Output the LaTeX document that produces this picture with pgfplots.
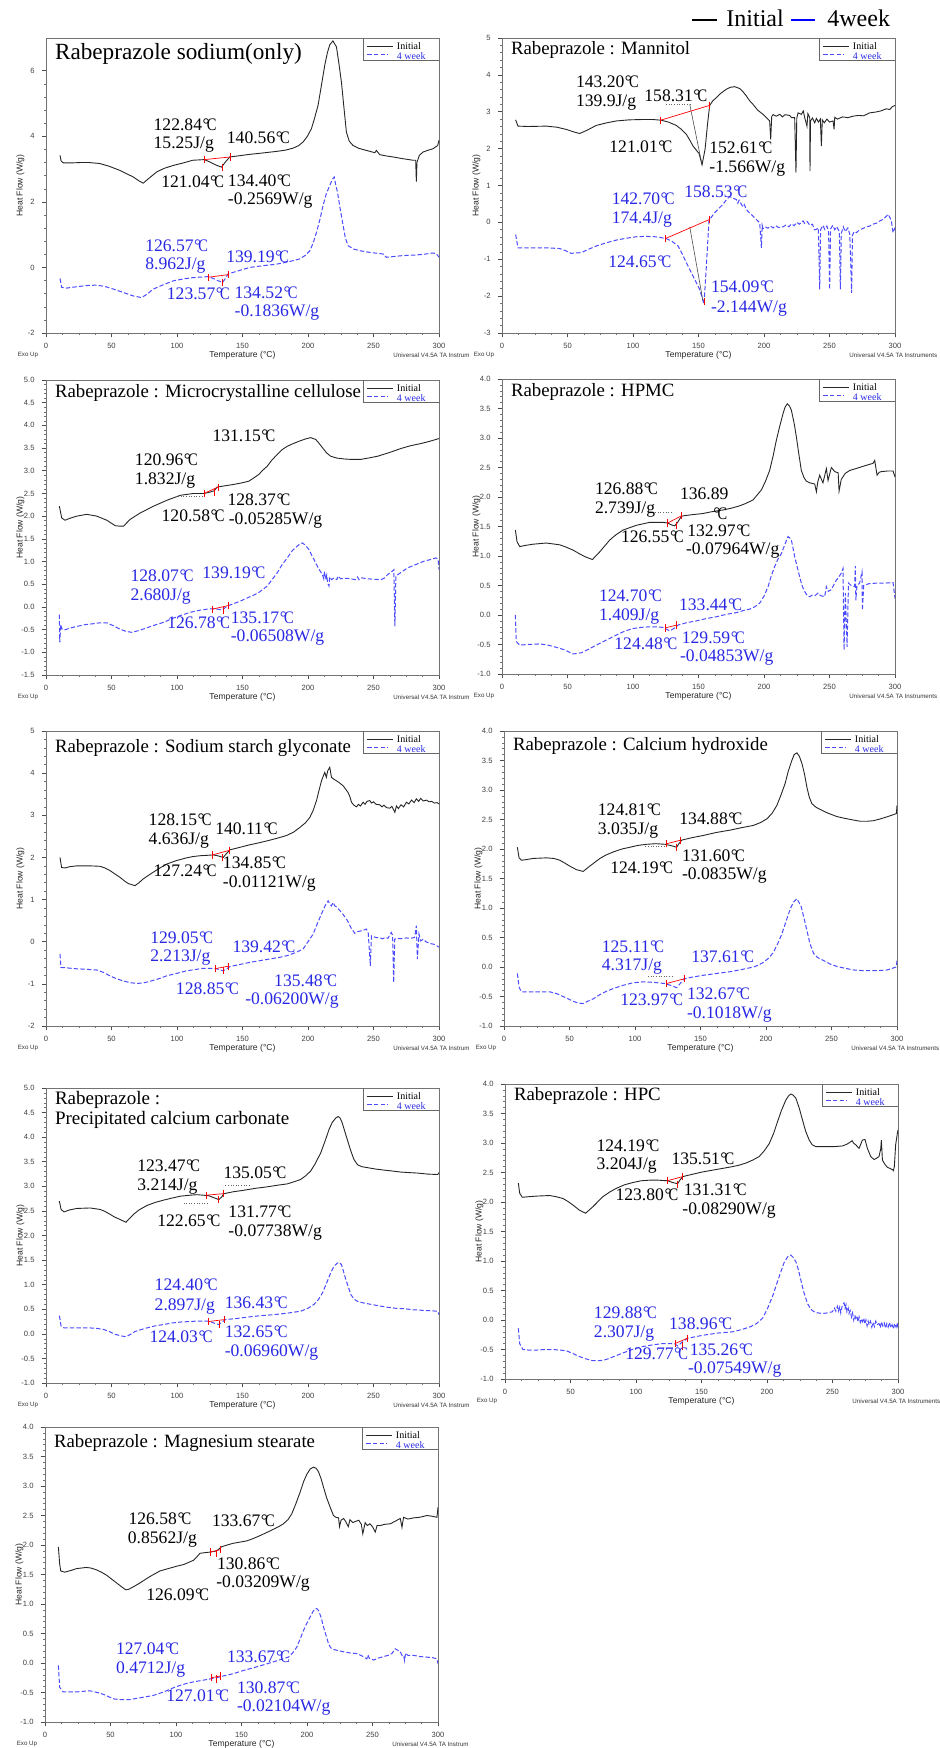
\documentclass[border=0pt]{standalone}
\usepackage{fontspec}
\setmainfont{Liberation Serif}
\newfontfamily\sansf{Liberation Sans}
\usepackage{graphicx}
\usepackage{pgfplots}
\pgfplotsset{compat=1.18}
\definecolor{annblue}{RGB}{40,40,228}
\definecolor{curveblue}{RGB}{75,75,255}

\newcommand\dgC{\kern0.03em\textdegree\kern-0.16em\scalebox{0.82}[1]{C}}
\newcommand\tickfont{\sansf\fontsize{3.8}{4.4}\selectfont}
\newcommand\labfont{\sansf\fontsize{4.3}{5}\selectfont}
\newcommand\tinyfont{\sansf\fontsize{3.1}{3.6}\selectfont}
\newcommand\annfont{\fontsize{8.8}{10}\selectfont}
\newcommand\legfont{\fontsize{5}{6}\selectfont}

\tikzset{ini/.style={black!85, line width=0.45pt},
  wk/.style={curveblue, line width=0.5pt, dash pattern=on 2.2pt off 1.1pt},
  redm/.style={red, line width=0.35pt, mark=|, mark size=1.8pt},
  ann/.style={anchor=west, inner sep=0pt, font=\annfont},
  annb/.style={ann, text=annblue}}
\pgfplotsset{
  dsc/.style={
    width=196.5pt, height=147.5pt, scale only axis, anchor=north west,
    xmin=0, xmax=300, xtick={0,50,...,300},
    minor x tick num=3, minor y tick num=4,
    tick align=outside, xtick pos=bottom, ytick pos=left,
    axis line style={black!55, line width=0.35pt},
    major tick style={black!70, line width=0.3pt},
    minor tick style={black!55, line width=0.25pt},
    major tick length=2.2pt, minor tick length=1.1pt,
    tick label style={font=\tickfont, text=black!75},
    xticklabel style={yshift=0.6pt},
    /pgf/number format/assume math mode=true,
    scaled y ticks=false, clip mode=individual,
  },
  dec1/.style={yticklabel style={/pgf/number format/fixed, /pgf/number format/fixed zerofill, /pgf/number format/precision=1}},
  rpk/.style={red, only marks, mark=|, mark size=1.8pt, mark options={line width=0.35pt}},
}

% #1 title, #2 title size, #3 title rel y, #4 bottom right text
\newcommand\decor[4]{%
  \node[anchor=west, inner sep=0pt, align=left, font=\fontsize{#2}{10.4}\selectfont] at (rel axis cs:0.022,#3) {#1};
  \draw[black!60, line width=0.35pt] (rel axis cs:0.807,1) -- (rel axis cs:0.807,0.925) -- (rel axis cs:1,0.925);
  \draw[ini] (rel axis cs:0.818,0.972) -- (rel axis cs:0.883,0.972);
  \node[anchor=west, inner sep=0pt, font=\legfont] at (rel axis cs:0.892,0.972) {Initial};
  \draw[wk] (rel axis cs:0.818,0.944) -- (rel axis cs:0.870,0.944);
  \node[anchor=west, inner sep=0pt, font=\legfont, text=annblue] at (rel axis cs:0.892,0.940) {4 week};
  \node[yshift=-11.2pt, font=\labfont, text=black!85] at (rel axis cs:0.5,0) {Temperature (°C)};
  \node[xshift=-12.8pt, rotate=90, font=\labfont, text=black!85] at (rel axis cs:0,0.5) {Heat Flow (W/g)};
  \node[xshift=-9pt, yshift=-11pt, font=\tinyfont, text=black!80] at (rel axis cs:0,0) {Exo Up};
  \node[xshift=-23pt, yshift=-11pt, anchor=west, inner sep=0pt, font=\tinyfont, text=black!80] at (rel axis cs:1,0) {#4};
}

\begin{document}
\begin{tikzpicture}
\path[use as bounding box] (0,0) rectangle (470pt,-874pt);
\draw[black, line width=0.8pt] (346pt,-10pt) -- (358.5pt,-10pt);
\node[anchor=west, inner sep=0pt, font=\fontsize{12}{14}\selectfont] at (363pt,-9.2pt) {Initial};
\draw[blue, line width=0.8pt] (395.5pt,-10pt) -- (407.5pt,-10pt);
\node[anchor=west, inner sep=0pt, font=\fontsize{12}{14}\selectfont] at (413.5pt,-9.2pt) {4week};

% ---------- 1: Rabeprazole sodium (only)
\begin{axis}[dsc, at={(23pt,-19pt)}, ymin=-2, ymax=7, ytick={-2,0,...,6}]
\addplot[ini] coordinates {(10.7,3.42)(11.5,3.25)(13.2,3.19)(20,3.19)(26,3.20)(33,3.20)(41,3.17)(48,3.09)(56.4,2.96)(62,2.85)(66.6,2.76)(71,2.64)(74.2,2.57)(78,2.70)(84.4,2.91)(90,3.02)(97,3.11)(105,3.19)(112,3.27)(121,3.29)(126,3.20)(130,3.12)(134,3.06)(137,3.22)(140.3,3.37)(148,3.41)(155.6,3.45)(165,3.49)(176,3.54)(183,3.58)(188.7,3.64)(193,3.72)(196.3,3.83)(199.5,4.0)(202.6,4.23)(205,4.55)(207.7,4.95)(210,5.5)(212.8,6.17)(214.8,6.55)(216.6,6.79)(219,6.91)(221.7,6.73)(223.5,6.25)(225.5,5.66)(227.5,4.85)(229.3,4.13)(231.5,3.85)(234.4,3.72)(239,3.63)(244.6,3.57)(251,3.50)(252.2,3.57)(254.8,3.44)(260,3.40)(265,3.37)(272,3.32)(280.2,3.27)(282.2,3.27)(282.7,2.62)(283.2,3.21)(285,3.42)(287.8,3.52)(292,3.58)(295.4,3.62)(299,3.72)(300,3.88)};
\addplot[wk] coordinates {(10.7,-0.34)(12,-0.61)(15.8,-0.63)(25,-0.58)(32,-0.55)(38.6,-0.54)(45,-0.58)(51.4,-0.66)(58,-0.75)(66.6,-0.87)(73,-0.92)(77,-0.82)(81.9,-0.66)(90,-0.52)(97.1,-0.41)(105,-0.35)(112.4,-0.31)(120,-0.29)(123.8,-0.28)(128,-0.34)(131,-0.40)(134.8,-0.46)(137,-0.33)(139,-0.20)(147,-0.10)(155.6,0)(165,0.05)(176,0.10)(185,0.17)(193.7,0.26)(198,0.37)(201.4,0.51)(204,0.75)(206.5,1.07)(209,1.45)(211.5,1.89)(214,2.25)(216.6,2.50)(218.5,2.68)(220,2.76)(221,2.55)(222.5,2.30)(224.5,1.80)(226.8,1.28)(228.5,0.90)(230.6,0.66)(235,0.56)(239.5,0.51)(247,0.46)(257.3,0.41)(259.8,0.31)(265,0.33)(272,0.36)(282.7,0.38)(290,0.41)(295.4,0.44)(298,0.42)(300,0.31)};
\addplot[redm] coordinates {(121.0,3.29)(140.6,3.37)};
\addplot[rpk] coordinates {(134.4,3.06)};
\addplot[redm] coordinates {(123.6,-0.30)(139.2,-0.22)};
\addplot[rpk] coordinates {(134.5,-0.46)};
\decor{Rabeprazole sodium(only)}{11.6}{0.947}{Universal V4.5A TA Instrum}
\node[ann] at (axis cs:81.9,4.34) {122.84\dgC};
\node[ann] at (axis cs:81.9,3.74) {15.25J/g};
\node[ann] at (axis cs:137.8,3.95) {140.56\dgC};
\node[ann] at (axis cs:87.7,2.62) {121.04\dgC};
\node[ann] at (axis cs:138.6,2.65) {134.40\dgC};
\node[ann] at (axis cs:138.6,2.04) {-0.2569W/g};
\node[annb] at (axis cs:75.5,0.66) {126.57\dgC};
\node[annb] at (axis cs:75.5,0.05) {8.962J/g};
\node[annb] at (axis cs:137.3,0.34) {139.19\dgC};
\node[annb] at (axis cs:92,-0.79) {123.57\dgC};
\node[annb] at (axis cs:143.7,-0.77) {134.52\dgC};
\node[annb] at (axis cs:143.7,-1.38) {-0.1836W/g};
\end{axis}

% ---------- 2: Mannitol
\begin{axis}[dsc, at={(251pt,-19pt)}, ymin=-3, ymax=5, ytick={-3,-2,...,5}]
\addplot[ini] coordinates {(10.4,2.78)(12.2,2.61)(20,2.60)(33.8,2.61)(42,2.58)(49.1,2.52)(55,2.45)(59.3,2.41)(65,2.50)(72,2.63)(80,2.70)(87.3,2.75)(97,2.78)(107.6,2.79)(115,2.79)(121.6,2.77)(127,2.72)(133,2.63)(137,2.52)(140.7,2.39)(143.5,2.22)(145.8,2.07)(148.5,1.95)(150.4,1.87)(152.7,1.56)(155,1.98)(157,2.70)(158.5,3.17)(161,3.30)(163.6,3.38)(167,3.50)(171.2,3.61)(174,3.66)(177.6,3.68)(181.4,3.63)(184,3.54)(186.5,3.43)(189,3.30)(191.6,3.20)(195,3.05)(199.2,2.93)(204.3,2.75)(205.1,2.25)(205.9,2.88)(207,2.92)(209.4,2.88)(212,2.93)(214,2.86)(216,2.92)(219.6,2.90)(221,2.84)(223.4,2.84)(224.4,1.35)(225,2.82)(226,2.97)(228.5,2.93)(230,3.02)(231,2.85)(232.8,2.61)(233.5,2.95)(234.9,2.84)(235.1,1.39)(235.5,2.75)(237,2.83)(238.7,2.70)(240,2.82)(241.5,2.72)(243,2.80)(243.8,2.07)(244.5,2.78)(246,2.70)(248,2.80)(250,2.72)(252.7,2.75)(253.5,2.52)(254,2.85)(256,2.80)(260,2.86)(264,2.84)(268,2.88)(272,2.90)(276,2.89)(280.7,2.97)(285,2.99)(289,3.02)(293.4,3.08)(296,3.06)(298,3.14)(300,3.17)};
\addplot[wk] coordinates {(10.4,-0.33)(12.2,-0.69)(20,-0.69)(33.8,-0.69)(44,-0.71)(48,-0.76)(52.9,-0.84)(60.6,-0.82)(66,-0.73)(72,-0.64)(80,-0.55)(87.3,-0.48)(95,-0.43)(102.5,-0.39)(110,-0.38)(116.5,-0.39)(121,-0.41)(125.4,-0.44)(130,-0.52)(134.4,-0.64)(137.5,-0.85)(140.7,-1.09)(144,-1.33)(147.1,-1.55)(150.9,-1.82)(154.2,-2.22)(156,-1.18)(158,0.04)(160,0.15)(162.3,0.26)(165,0.36)(168.7,0.49)(171,0.60)(173.8,0.70)(176,0.66)(178.9,0.62)(180,0.52)(181,0.60)(182.7,0.49)(184,0.42)(185,0.48)(186.5,0.35)(189,0.25)(191.6,0.17)(194,0.08)(196.7,-0.01)(198,-0.69)(198.6,-0.08)(199.2,-0.17)(201,-0.12)(203,-0.16)(205,-0.10)(207,-0.15)(209,-0.09)(211,-0.14)(214.5,-0.12)(217,-0.07)(219,-0.12)(221,-0.04)(223,-0.09)(225,0.00)(227,-0.05)(229.8,0.04)(231,-0.03)(233,0.02)(235,-0.08)(237,-0.05)(238.5,-0.20)(240,-0.19)(241.5,-0.15)(242.5,-1.82)(243.2,-0.20)(245,-0.08)(246.3,-0.19)(248,-0.10)(249.3,-0.25)(250.1,-1.82)(250.8,-0.18)(252.5,-0.08)(254,-0.20)(255.5,-0.12)(257.5,-0.25)(258.3,-1.82)(259,-0.30)(260.5,-0.12)(262,-0.25)(264,-0.15)(265.5,-0.33)(266.9,-1.91)(267.5,-0.35)(269,-0.25)(270.5,-0.28)(273,-0.20)(276,-0.16)(278,-0.12)(280.7,-0.10)(283,-0.05)(286,-0.02)(288,0.03)(290.8,0.08)(293,0.15)(294.7,0.22)(296,0.14)(297.2,0.04)(298.5,-0.28)(300,-0.14)};
\addplot[black!60, line width=0.3pt, densely dotted] coordinates {(125.4,3.2)(143.3,3.2)};
\addplot[black!70, line width=0.3pt] coordinates {(143.3,3.2)(152.7,1.56)};
\addplot[redm] coordinates {(121.0,2.77)(158.3,3.17)};
\addplot[black!70, line width=0.3pt] coordinates {(143.3,-0.12)(153.4,-2.13)};
\addplot[redm] coordinates {(124.65,-0.44)(158.5,0.08)};
\addplot[rpk] coordinates {(154.1,-2.15)};
\decor{Rabeprazole : Mannitol}{9.4}{0.960}{Universal V4.5A TA Instruments}
\node[ann] at (axis cs:56.2,3.81) {143.20\dgC};
\node[ann] at (axis cs:56.2,3.25) {139.9J/g};
\node[ann] at (axis cs:108.4,3.43) {158.31\dgC};
\node[ann] at (axis cs:81.7,2.04) {121.01\dgC};
\node[ann] at (axis cs:158,2.01) {152.61\dgC};
\node[ann] at (axis cs:158,1.46) {-1.566W/g};
\node[annb] at (axis cs:83.5,0.64) {142.70\dgC};
\node[annb] at (axis cs:83.5,0.08) {174.4J/g};
\node[annb] at (axis cs:138.9,0.82) {158.53\dgC};
\node[annb] at (axis cs:80.9,-1.07) {124.65\dgC};
\node[annb] at (axis cs:159.3,-1.75) {154.09\dgC};
\node[annb] at (axis cs:159.3,-2.34) {-2.144W/g};
\end{axis}

% ---------- 3: Microcrystalline cellulose
\begin{axis}[dsc, dec1, at={(23pt,-190pt)}, ymin=-1.5, ymax=5, ytick={-1.5,-1,...,5}]
\addplot[ini] coordinates {(10.2,2.22)(12,1.96)(14.5,1.91)(18,1.95)(23.5,2.00)(31.1,2.04)(38.8,2.00)(46.4,1.91)(52.8,1.79)(56,1.78)(59.2,1.78)(64.3,1.93)(71.9,2.07)(82.1,2.22)(92.3,2.35)(102.6,2.46)(112.8,2.50)(120.4,2.50)(124,2.52)(128.4,2.56)(130.6,2.64)(137,2.67)(143.4,2.70)(149,2.73)(154.8,2.77)(158,2.83)(162.5,2.92)(165,3.00)(168.9,3.10)(172,3.22)(176.5,3.36)(180,3.46)(184.2,3.54)(188,3.59)(193.1,3.65)(198,3.70)(202,3.73)(205.9,3.69)(208,3.62)(211,3.51)(214,3.40)(217.3,3.32)(222,3.28)(227.6,3.26)(233,3.25)(240.3,3.25)(246,3.28)(253.1,3.32)(262,3.40)(270.9,3.49)(278,3.55)(286.2,3.60)(293,3.65)(300,3.71)};
\addplot[wk] coordinates {(10.2,-0.17)(10.5,-0.78)(11.3,-0.39)(12,-0.48)(14,-0.51)(18,-0.47)(23.5,-0.43)(30,-0.39)(36.2,-0.37)(41,-0.35)(46.4,-0.35)(51,-0.41)(56.6,-0.49)(61,-0.54)(65.6,-0.56)(71,-0.52)(77,-0.46)(83,-0.40)(89.8,-0.34)(96,-0.26)(102.6,-0.19)(110,-0.12)(117.9,-0.07)(123,-0.05)(128.1,-0.04)(131,-0.05)(134.4,-0.07)(137,-0.01)(139.5,0.03)(144,0.08)(148.5,0.13)(153,0.19)(158.7,0.26)(163,0.33)(168.9,0.46)(172,0.58)(176.5,0.75)(180,0.92)(184.2,1.08)(188,1.24)(191.8,1.34)(194,1.39)(195.7,1.41)(198,1.36)(200.8,1.26)(203,1.13)(205.9,0.97)(208,0.85)(211,0.71)(212,0.62)(212.6,0.78)(213.5,0.60)(214.3,0.70)(215,0.52)(216,0.46)(216.5,0.66)(218,0.60)(219.9,0.64)(222,0.60)(223,0.68)(225,0.62)(230,0.63)(232.7,0.62)(236,0.60)(237.8,0.66)(239,0.60)(241,0.64)(245.4,0.62)(250,0.61)(255.6,0.60)(258,0.63)(260.7,0.71)(264.5,0.79)(265.5,0.82)(266.3,-0.43)(267.1,0.68)(271,0.76)(276,0.86)(282,0.93)(288.8,1.01)(293,1.04)(297.7,1.08)(299.3,1.05)(300,0.82)};
\addplot[black!60, line width=0.3pt, densely dotted] coordinates {(99,2.44)(120.4,2.44)};
\addplot[redm] coordinates {(120.6,2.50)(131.2,2.64)};
\addplot[rpk] coordinates {(128.4,2.52)};
\addplot[redm] coordinates {(126.8,-0.05)(139.2,0.03)};
\addplot[rpk] coordinates {(135.2,-0.08)};
\decor{Rabeprazole : Microcrystalline cellulose}{9.4}{0.955}{Universal V4.5A TA Instrum}
\node[ann] at (axis cs:126.8,3.78) {131.15\dgC};
\node[ann] at (axis cs:67.6,3.25) {120.96\dgC};
\node[ann] at (axis cs:67.6,2.79) {1.832J/g};
\node[ann] at (axis cs:138.3,2.35) {128.37\dgC};
\node[ann] at (axis cs:88,2.0) {120.58\dgC};
\node[ann] at (axis cs:139.3,1.90) {-0.05285W/g};
\node[annb] at (axis cs:64.3,0.69) {128.07\dgC};
\node[annb] at (axis cs:119.1,0.75) {139.19\dgC};
\node[annb] at (axis cs:64.3,0.22) {2.680J/g};
\node[annb] at (axis cs:92.3,-0.34) {126.78\dgC};
\node[annb] at (axis cs:140.8,-0.23) {135.17\dgC};
\node[annb] at (axis cs:140.8,-0.68) {-0.06508W/g};
\end{axis}

% ---------- 4: HPMC
\begin{axis}[dsc, dec1, at={(251pt,-189.5pt)}, ymin=-1, ymax=4, ytick={-1,-0.5,...,4}]
\addplot[ini] coordinates {(10.2,1.44)(11.5,1.24)(13.5,1.16)(18,1.18)(23.7,1.20)(33.8,1.22)(44,1.19)(49,1.15)(54.2,1.10)(59,1.04)(63.1,0.99)(69,0.94)(74.6,1.07)(82.2,1.27)(87,1.36)(92.4,1.44)(102.5,1.52)(112.7,1.57)(122.9,1.57)(126.5,1.56)(129,1.53)(131.8,1.51)(134,1.57)(136.9,1.67)(138.2,1.68)(145,1.70)(153.4,1.72)(160,1.75)(168.7,1.78)(175,1.81)(181.4,1.85)(186,1.89)(191.6,1.95)(195,2.04)(198,2.12)(201,2.26)(204.3,2.45)(207,2.70)(209.4,2.96)(212,3.20)(214.5,3.41)(216,3.52)(217.8,3.58)(219.5,3.54)(220.9,3.47)(223,3.25)(224.7,3.02)(226.5,2.74)(228.5,2.45)(230.5,2.33)(232.3,2.27)(235,2.24)(238.7,2.22)(240,2.09)(241,2.25)(242.5,2.37)(245,2.24)(247.6,2.48)(248.9,2.28)(251.4,2.50)(254,2.43)(256.6,2.41)(257.3,2.10)(259,2.30)(262,2.40)(265.4,2.45)(270,2.48)(275.6,2.52)(280,2.55)(283.2,2.57)(284.5,2.62)(286.3,2.37)(288,2.42)(289.6,2.43)(294,2.44)(298.5,2.44)(300,2.34)};
\addplot[wk] coordinates {(10.2,0.0)(10.9,-0.45)(13.5,-0.51)(20,-0.50)(28.8,-0.49)(35,-0.51)(40.2,-0.54)(47.8,-0.59)(54.2,-0.66)(60.6,-0.64)(66,-0.58)(72,-0.51)(80,-0.42)(87.3,-0.34)(94,-0.27)(100,-0.23)(106,-0.21)(112.7,-0.20)(118,-0.20)(122.9,-0.21)(125.5,-0.24)(128,-0.27)(131,-0.23)(134.4,-0.17)(141,-0.13)(148.3,-0.10)(156,-0.06)(163.6,-0.03)(171,0.01)(178.9,0.04)(185,0.08)(189.1,0.10)(193,0.14)(196.7,0.20)(200,0.32)(203.1,0.48)(205.5,0.66)(208.1,0.82)(210.5,0.94)(213.2,1.04)(216,1.20)(218.3,1.33)(219.5,1.31)(220.9,1.27)(222,1.15)(223.4,0.99)(225.5,0.80)(227.2,0.65)(229,0.50)(231,0.40)(233,0.33)(234.9,0.31)(237,0.34)(239,0.33)(241.2,0.37)(243,0.33)(246.3,0.31)(247.6,0.48)(249,0.40)(251.4,0.43)(253,0.50)(255.2,0.59)(257,0.64)(259,0.71)(260.3,0.79)(261.1,-0.59)(262.1,0.37)(263.4,-0.54)(264.5,0.54)(266.5,0.50)(269.2,0.48)(269.7,0.83)(270.1,0.25)(271,0.50)(273,0.54)(274.8,0.73)(275.1,0.08)(276.1,0.50)(280,0.53)(285.7,0.54)(292,0.54)(298.5,0.55)(300,0.28)};
\addplot[black!60, line width=0.3pt, densely dotted] coordinates {(117,1.74)(130,1.74)};
\addplot[redm] coordinates {(126.5,1.56)(136.9,1.68)};
\addplot[rpk] coordinates {(133,1.52)};
\addplot[redm] coordinates {(124.5,-0.22)(133.4,-0.17)};
\decor{Rabeprazole : HPMC}{9.4}{0.957}{Universal V4.5A TA Instruments}
\node[ann] at (axis cs:70.7,2.14) {126.88\dgC};
\node[ann] at (axis cs:70.7,1.79) {2.739J/g};
\node[ann] at (axis cs:135.6,2.05) {136.89};
\node[ann] at (axis cs:160.6,1.71) {\dgC};
\node[ann] at (axis cs:90.6,1.33) {126.55\dgC};
\node[ann] at (axis cs:141.2,1.42) {132.97\dgC};
\node[ann] at (axis cs:140.2,1.09) {-0.07964W/g};
\node[annb] at (axis cs:73.8,0.33) {124.70\dgC};
\node[annb] at (axis cs:73.8,-0.02) {1.409J/g};
\node[annb] at (axis cs:134.9,0.18) {133.44\dgC};
\node[annb] at (axis cs:85.5,-0.48) {124.48\dgC};
\node[annb] at (axis cs:137,-0.38) {129.59\dgC};
\node[annb] at (axis cs:135.6,-0.72) {-0.04853W/g};
\end{axis}

% ---------- 5: Sodium starch glyconate
\begin{axis}[dsc, at={(23pt,-365.5pt)}, ymin=-2, ymax=5, ytick={-2,-1,...,5}]
\addplot[ini] coordinates {(10.7,2.00)(11.9,1.76)(14.5,1.75)(18,1.78)(23.4,1.80)(33.6,1.80)(41.2,1.79)(45,1.75)(48.8,1.69)(52,1.62)(56.4,1.53)(60,1.44)(62.8,1.38)(67.9,1.33)(71,1.40)(74.2,1.49)(78,1.57)(81.9,1.65)(87,1.75)(92,1.84)(99,1.92)(106,1.98)(112,2.02)(117.5,2.04)(123,2.05)(127.6,2.06)(131,2.04)(135.3,2.00)(138,2.10)(140.4,2.18)(148,2.24)(155.6,2.30)(163,2.35)(170.9,2.41)(177,2.46)(183.6,2.52)(189,2.60)(193.7,2.71)(198,2.82)(201.4,2.95)(204,3.12)(206.5,3.35)(208.5,3.60)(210.3,3.82)(212.8,4.02)(214,3.90)(215,4.05)(216.6,4.14)(217.9,3.90)(219.5,3.86)(221.7,3.82)(224,3.77)(226.8,3.70)(228.5,3.63)(230.6,3.54)(232,3.44)(233.2,3.31)(235,3.24)(237,3.20)(238.5,3.26)(240,3.22)(242.1,3.31)(243.5,3.26)(245,3.33)(247.1,3.35)(248.5,3.29)(250,3.32)(252,3.26)(254.8,3.25)(256.5,3.20)(258,3.24)(260,3.18)(262.4,3.17)(264,3.21)(266.3,3.07)(267.5,3.22)(269,3.16)(271,3.25)(273,3.20)(275.1,3.31)(277,3.27)(279,3.36)(281,3.30)(282.7,3.39)(284.5,3.33)(286,3.40)(288,3.34)(290.4,3.36)(292.5,3.32)(294.5,3.33)(296.5,3.29)(298.5,3.30)(300,3.27)};
\addplot[wk] coordinates {(10.7,-0.29)(11.4,-0.61)(15.8,-0.62)(22,-0.64)(28.5,-0.65)(33,-0.66)(38.6,-0.67)(44,-0.73)(48.8,-0.81)(54,-0.88)(59,-0.93)(64,-0.97)(69.2,-0.99)(74,-0.98)(79.3,-0.94)(86,-0.88)(92,-0.81)(100,-0.75)(107.3,-0.69)(114,-0.66)(120,-0.63)(124,-0.63)(128.9,-0.63)(132,-0.66)(135.3,-0.69)(138,-0.64)(140.4,-0.59)(148,-0.54)(155.6,-0.49)(165,-0.44)(178.5,-0.37)(184,-0.33)(188.7,-0.28)(192.5,-0.23)(196.3,-0.17)(200,0.0)(203.9,0.18)(207,0.42)(210.3,0.66)(213,0.85)(215.4,0.97)(216.5,0.90)(217.9,0.85)(219.2,0.93)(220.5,0.85)(222,0.82)(224.3,0.74)(226.5,0.66)(229.3,0.54)(231,0.45)(233,0.32)(235.7,0.20)(237.5,0.24)(239.5,0.25)(242,0.27)(244.6,0.30)(246,0.20)(247.6,-0.57)(248.4,0.14)(250,0.12)(252,0.10)(254.8,0.09)(257,0.07)(259,0.10)(261,0.08)(263.6,0.22)(264.6,0.15)(265.4,-0.97)(266.2,0.06)(268,0.08)(271,0.07)(275.1,0.09)(278,0.08)(281.4,0.10)(282.7,0.38)(283.5,-0.41)(284.7,0.18)(286,0.02)(288,0.06)(290,0.0)(292.9,-0.04)(296,-0.06)(298.5,-0.10)(300,-0.13)};
\addplot[redm] coordinates {(127.2,2.06)(140.1,2.17)};
\addplot[rpk] coordinates {(134.9,2.0)};
\addplot[redm] coordinates {(128.9,-0.64)(139.4,-0.58)};
\addplot[rpk] coordinates {(135.5,-0.69)};
\decor{Rabeprazole : Sodium starch glyconate}{9.4}{0.943}{Universal V4.5A TA Instrum}
\node[ann] at (axis cs:78.1,2.89) {128.15\dgC};
\node[ann] at (axis cs:78.1,2.40) {4.636J/g};
\node[ann] at (axis cs:128.9,2.67) {140.11\dgC};
\node[ann] at (axis cs:81.9,1.69) {127.24\dgC};
\node[ann] at (axis cs:134.8,1.88) {134.85\dgC};
\node[ann] at (axis cs:134.8,1.38) {-0.01121W/g};
\node[annb] at (axis cs:79.3,0.10) {129.05\dgC};
\node[annb] at (axis cs:79.3,-0.37) {2.213J/g};
\node[annb] at (axis cs:142.1,-0.11) {139.42\dgC};
\node[annb] at (axis cs:98.9,-1.11) {128.85\dgC};
\node[annb] at (axis cs:173.9,-0.93) {135.48\dgC};
\node[annb] at (axis cs:151.8,-1.40) {-0.06200W/g};
\end{axis}

% ---------- 6: Calcium hydroxide
\begin{axis}[dsc, dec1, at={(252pt,-365.5pt)}, ymin=-1, ymax=4, ytick={-1,-0.5,...,4}]
\addplot[ini] coordinates {(10.2,2.03)(11.5,1.85)(13.3,1.81)(17,1.82)(22.2,1.84)(32.4,1.85)(38,1.84)(42.6,1.81)(46.5,1.76)(50.2,1.71)(55.3,1.65)(60.4,1.62)(65.5,1.71)(73.2,1.84)(78,1.90)(83.4,1.95)(90,2.00)(96.1,2.03)(102,2.06)(108.8,2.08)(116,2.09)(122.9,2.08)(127,2.06)(131.8,2.03)(133.5,2.09)(135.6,2.15)(143,2.19)(152.2,2.23)(162,2.28)(172.6,2.32)(181,2.36)(190.4,2.40)(196,2.45)(200.6,2.51)(204.5,2.60)(208.3,2.74)(211.5,2.92)(214.6,3.11)(217,3.32)(219.7,3.50)(221.5,3.60)(223.6,3.63)(225.5,3.57)(227.4,3.45)(229.3,3.28)(231.2,3.05)(233,2.88)(235,2.77)(238,2.71)(241.4,2.67)(247,2.61)(254.1,2.55)(260,2.52)(266.9,2.49)(272,2.47)(277.1,2.47)(282,2.48)(287.3,2.51)(293,2.55)(299.5,2.60)(300,2.74)};
\addplot[wk] coordinates {(10.2,-0.11)(11.5,-0.34)(13.3,-0.42)(18,-0.42)(24.7,-0.42)(34.9,-0.42)(40,-0.45)(45.1,-0.50)(49,-0.54)(52.8,-0.58)(56.5,-0.61)(60.4,-0.62)(64,-0.58)(68.1,-0.54)(73,-0.47)(78.3,-0.41)(84,-0.36)(91,-0.31)(98,-0.27)(106.3,-0.25)(114,-0.26)(122.9,-0.28)(127,-0.31)(131.8,-0.35)(134.5,-0.28)(137.4,-0.20)(144,-0.17)(152.2,-0.14)(162,-0.11)(172.6,-0.08)(182,-0.04)(190.4,0.00)(194,0.03)(198.1,0.08)(202,0.15)(205.7,0.25)(209,0.40)(212.1,0.56)(214.5,0.72)(217.2,0.90)(219,1.01)(221,1.10)(223.6,1.16)(225,1.10)(226.9,1.02)(229,0.83)(231.2,0.62)(233.5,0.40)(236.3,0.23)(239.5,0.16)(243.9,0.11)(249,0.05)(254.1,0.01)(260,-0.02)(266.9,-0.05)(273,-0.06)(279.6,-0.06)(286,-0.06)(292.4,-0.05)(299.5,0.00)(300,0.12)};
\addplot[black!60, line width=0.3pt, densely dotted] coordinates {(108,2.05)(124,2.05)};
\addplot[redm] coordinates {(124.2,2.09)(134.9,2.15)};
\addplot[rpk] coordinates {(131.6,2.03)};
\addplot[black!60, line width=0.3pt, densely dotted] coordinates {(110,-0.15)(128,-0.15)};
\addplot[redm] coordinates {(124,-0.28)(137.6,-0.20)};
\decor{Rabeprazole : Calcium hydroxide}{9.4}{0.949}{Universal V4.5A TA Instruments}
\node[ann] at (axis cs:71.4,2.67) {124.81\dgC};
\node[ann] at (axis cs:71.4,2.31) {3.035J/g};
\node[ann] at (axis cs:133.6,2.51) {134.88\dgC};
\node[ann] at (axis cs:135.6,1.89) {131.60\dgC};
\node[ann] at (axis cs:80.8,1.68) {124.19\dgC};
\node[ann] at (axis cs:135.6,1.55) {-0.0835W/g};
\node[annb] at (axis cs:74.4,0.35) {125.11\dgC};
\node[annb] at (axis cs:74.4,0.0) {4.317J/g};
\node[annb] at (axis cs:142.7,0.18) {137.61\dgC};
\node[annb] at (axis cs:88.5,-0.56) {123.97\dgC};
\node[annb] at (axis cs:139.4,-0.46) {132.67\dgC};
\node[annb] at (axis cs:139.4,-0.80) {-0.1018W/g};
\end{axis}

% ---------- 7: Precipitated calcium carbonate
\begin{axis}[dsc, dec1, at={(23pt,-544pt)}, ymin=-1, ymax=5, ytick={-1,-0.5,...,5}]
\addplot[ini] coordinates {(10.2,2.70)(11.5,2.53)(13.8,2.48)(18,2.52)(23.5,2.55)(33.7,2.56)(41.3,2.53)(45,2.49)(49,2.43)(52,2.38)(55.4,2.34)(61,2.27)(66.8,2.43)(71,2.52)(77,2.61)(83,2.67)(89.8,2.72)(96,2.76)(102.6,2.80)(110,2.82)(115.3,2.83)(120,2.82)(124.2,2.81)(128,2.77)(131.9,2.73)(134,2.78)(135.7,2.85)(143,2.89)(151,2.92)(160,2.96)(168.9,2.99)(176,3.02)(184.2,3.05)(189,3.09)(194.4,3.14)(198,3.21)(202,3.31)(205.5,3.46)(209.7,3.68)(213,3.92)(216.1,4.16)(218.5,4.30)(221.2,4.39)(223,4.42)(224.5,4.39)(226,4.30)(227.6,4.16)(230,3.95)(232.7,3.72)(235,3.55)(237.8,3.44)(241,3.40)(245.4,3.38)(252,3.35)(258.2,3.33)(265,3.31)(271,3.29)(277,3.28)(283.7,3.27)(291,3.25)(299,3.24)(300,3.28)};
\addplot[wk] coordinates {(10.2,0.37)(11.5,0.16)(13.8,0.12)(18,0.12)(23.5,0.12)(33.7,0.12)(39,0.11)(43.9,0.09)(48,0.05)(52.8,-0.01)(57,-0.04)(61.2,-0.06)(64.5,-0.01)(68.1,0.05)(73,0.09)(77,0.12)(83,0.16)(89.8,0.19)(96,0.22)(102.6,0.24)(110,0.25)(115.3,0.26)(120,0.26)(124.2,0.26)(128,0.22)(131.9,0.19)(134.5,0.24)(137,0.29)(145,0.31)(153.6,0.34)(164,0.37)(174,0.39)(184,0.42)(194.4,0.46)(200,0.52)(204.6,0.60)(208,0.70)(211,0.83)(214,1.02)(217.3,1.24)(220,1.38)(222.4,1.44)(224,1.45)(225.5,1.41)(227,1.28)(228.8,1.11)(230.8,0.95)(232.7,0.80)(235,0.71)(237.8,0.66)(242,0.63)(248,0.60)(254,0.57)(260.7,0.54)(267,0.52)(273.5,0.51)(280,0.49)(286.2,0.48)(293,0.47)(299,0.46)(300,0.39)};
\addplot[black!60, line width=0.3pt, densely dotted] coordinates {(105,2.65)(123,2.65)};
\addplot[black!60, line width=0.3pt, densely dotted] coordinates {(137,3.03)(155,3.03)};
\addplot[redm] coordinates {(122.7,2.82)(135.1,2.85)};
\addplot[rpk] coordinates {(131.8,2.73)};
\addplot[redm] coordinates {(124.0,0.25)(136.4,0.29)};
\addplot[rpk] coordinates {(132.6,0.19)};
\decor{Rabeprazole :\\Precipitated calcium carbonate}{9.5}{0.926}{Universal V4.5A TA Instrum}
\node[ann] at (axis cs:69.4,3.41) {123.47\dgC};
\node[ann] at (axis cs:69.4,3.0) {3.214J/g};
\node[ann] at (axis cs:135.2,3.27) {135.05\dgC};
\node[ann] at (axis cs:84.7,2.29) {122.65\dgC};
\node[ann] at (axis cs:139,2.49) {131.77\dgC};
\node[ann] at (axis cs:139,2.07) {-0.07738W/g};
\node[annb] at (axis cs:82.7,1.0) {124.40\dgC};
\node[annb] at (axis cs:82.7,0.56) {2.897J/g};
\node[annb] at (axis cs:136.2,0.64) {136.43\dgC};
\node[annb] at (axis cs:78.8,-0.06) {124.03\dgC};
\node[annb] at (axis cs:136.2,0.04) {132.65\dgC};
\node[annb] at (axis cs:136.2,-0.39) {-0.06960W/g};
\end{axis}

% ---------- 8: HPC
\begin{axis}[dsc, dec1, at={(252.5pt,-542pt)}, ymin=-1, ymax=4, ytick={-1,-0.5,...,4}]
\addplot[ini] coordinates {(10.2,2.32)(11.2,2.15)(13.2,2.08)(18,2.09)(23.9,2.10)(34,2.11)(39,2.09)(44.2,2.06)(48,2.01)(51.8,1.95)(56.9,1.86)(61.5,1.81)(67.1,1.92)(74.7,2.09)(80,2.17)(84.8,2.23)(91,2.29)(97.5,2.33)(104,2.36)(110.2,2.37)(117,2.37)(124.2,2.36)(128,2.33)(131.8,2.31)(133.5,2.37)(135.6,2.43)(143,2.47)(150.9,2.51)(161,2.55)(171.2,2.59)(178,2.62)(183.9,2.66)(189,2.71)(194,2.77)(198,2.87)(201.7,2.99)(205,3.16)(208,3.36)(211,3.55)(214.4,3.73)(216.5,3.80)(218.2,3.83)(220,3.81)(222,3.76)(224.5,3.60)(227.1,3.39)(229.5,3.20)(232.2,3.05)(234.5,2.97)(237.2,2.94)(242,2.94)(247.4,2.94)(252,2.94)(257.6,2.95)(261,2.98)(263.9,3.02)(265,3.04)(266,3.00)(267.7,2.97)(270.3,2.91)(272.8,3.05)(274.8,3.06)(276.6,2.91)(279.2,2.77)(281.7,2.72)(283.5,2.74)(285.5,2.77)(286.8,2.90)(287.3,3.05)(288.1,2.71)(290,2.64)(291.8,2.59)(295.7,2.55)(296.5,2.53)(297.2,2.60)(298.2,2.97)(299.5,3.16)(300,3.22)};
\addplot[wk] coordinates {(10.2,-0.14)(11.2,-0.40)(13.7,-0.50)(18,-0.51)(23.9,-0.51)(30,-0.50)(36.6,-0.50)(42,-0.51)(46.7,-0.52)(52,-0.57)(56.9,-0.62)(62,-0.66)(67.1,-0.69)(72,-0.69)(77.2,-0.67)(83,-0.62)(89.9,-0.56)(97,-0.50)(105.2,-0.45)(113,-0.42)(120.4,-0.40)(125,-0.40)(129.3,-0.40)(131.8,-0.44)(135,-0.38)(139.4,-0.31)(146,-0.28)(153.4,-0.25)(163,-0.22)(173.7,-0.20)(181,-0.16)(187.7,-0.11)(192,-0.06)(196.6,0.03)(200.5,0.20)(204.2,0.40)(207.5,0.62)(210.6,0.82)(213,0.97)(215.7,1.07)(218.2,1.10)(220,1.06)(222,0.99)(224,0.85)(225.8,0.68)(228,0.48)(230.9,0.28)(233.5,0.18)(236,0.14)(239,0.12)(242.3,0.11)(246,0.12)(249.9,0.14)(251.5,0.20)(252.5,0.15)(253.7,0.23)(254.5,0.15)(255.5,0.22)(256.3,0.12)(257.5,0.25)(258.8,0.29)(259.6,0.20)(260.3,0.26)(261,0.14)(262,0.20)(262.6,0.11)(263.5,0.16)(264.5,0.05)(265.3,0.12)(266.2,0.0)(267,0.08)(267.7,0.03)(268.6,0.07)(269.5,-0.03)(270.3,0.05)(271.2,-0.04)(272,0.02)(272.8,-0.03)(273.8,0.03)(274.7,-0.07)(275.5,0.0)(276.4,-0.10)(277.2,-0.02)(277.9,-0.08)(279,-0.02)(280,-0.12)(281,-0.04)(282,-0.11)(283,-0.02)(284,-0.08)(285.5,-0.06)(286.5,-0.13)(287.3,-0.03)(288.4,-0.10)(289.5,-0.05)(290.5,-0.14)(291.5,-0.06)(292.5,-0.12)(293.5,-0.04)(294.5,-0.13)(295.5,-0.08)(296.5,-0.15)(297.5,-0.06)(298.5,-0.12)(299.3,-0.05)(300,-0.14)};
\addplot[redm] coordinates {(123.8,2.36)(135.5,2.43)};
\addplot[rpk] coordinates {(131.3,2.30)};
\addplot[redm] coordinates {(129.8,-0.40)(139.0,-0.31)};
\addplot[rpk] coordinates {(135.3,-0.44)};
\decor{Rabeprazole : HPC}{9.4}{0.959}{Universal V4.5A TA Instruments}
\node[ann] at (axis cs:69.6,2.96) {124.19\dgC};
\node[ann] at (axis cs:69.6,2.61) {3.204J/g};
\node[ann] at (axis cs:126.8,2.73) {135.51\dgC};
\node[ann] at (axis cs:84.1,2.12) {123.80\dgC};
\node[ann] at (axis cs:136.2,2.21) {131.31\dgC};
\node[ann] at (axis cs:135.1,1.86) {-0.08290W/g};
\node[annb] at (axis cs:67.6,0.12) {129.88\dgC};
\node[annb] at (axis cs:67.6,-0.23) {2.307J/g};
\node[annb] at (axis cs:125,-0.07) {138.96\dgC};
\node[annb] at (axis cs:91.5,-0.58) {129.77\dgC};
\node[annb] at (axis cs:140.8,-0.5) {135.26\dgC};
\node[annb] at (axis cs:139.4,-0.84) {-0.07549W/g};
\end{axis}

% ---------- 9: Magnesium stearate
\begin{axis}[dsc, dec1, at={(22.5pt,-713.5pt)}, ymin=-1, ymax=4, ytick={-1,-0.5,...,4}]
\addplot[ini] coordinates {(10.2,1.97)(11.2,1.68)(12,1.56)(15,1.54)(20,1.57)(24,1.60)(31.6,1.62)(35,1.61)(39.3,1.58)(43,1.54)(46.9,1.49)(51,1.42)(54.5,1.36)(58,1.30)(61.7,1.24)(64,1.25)(67.3,1.29)(72,1.35)(77.5,1.43)(82,1.49)(87.7,1.56)(94,1.60)(100.4,1.64)(106,1.67)(113.2,1.74)(116,1.80)(118.3,1.86)(122,1.87)(125.9,1.88)(128.5,1.89)(131,1.90)(134.8,1.97)(139,2.00)(143.8,2.03)(149,2.05)(154,2.07)(159,2.11)(164.2,2.16)(170,2.22)(175.6,2.28)(179,2.32)(182,2.36)(185.5,2.43)(188.4,2.53)(191.5,2.70)(194.8,2.90)(197.5,3.08)(199.9,3.20)(202.5,3.29)(205,3.32)(207,3.30)(208.8,3.24)(210.8,3.12)(212.6,2.98)(215,2.80)(217.7,2.64)(220.2,2.50)(222,2.47)(224.1,2.46)(224.8,2.31)(226,2.42)(228,2.45)(229.5,2.40)(231.5,2.31)(232.8,2.43)(235,2.38)(237,2.40)(239.5,2.42)(241.5,2.35)(242.6,2.19)(244.4,2.38)(246,2.33)(248,2.36)(250,2.31)(252.1,2.22)(253.5,2.33)(256,2.33)(259,2.35)(263.6,2.36)(267,2.40)(271.2,2.45)(272.5,2.30)(273.7,2.47)(277,2.44)(281.4,2.46)(286,2.47)(291.6,2.50)(295,2.49)(299.2,2.47)(300,2.64)};
\addplot[wk] coordinates {(10.2,-0.04)(11.2,-0.41)(13.8,-0.49)(18,-0.49)(24,-0.49)(34.2,-0.47)(38,-0.49)(41.8,-0.51)(45.5,-0.54)(49.5,-0.58)(53,-0.61)(57.1,-0.62)(64.7,-0.62)(72.4,-0.59)(82.6,-0.55)(88,-0.51)(92.8,-0.47)(98,-0.42)(103,-0.38)(109,-0.34)(115.7,-0.31)(121,-0.29)(126,-0.27)(128.5,-0.26)(131,-0.25)(134,-0.23)(138,-0.21)(143.8,-0.18)(151,-0.13)(159.1,-0.08)(167,-0.03)(174.4,0.02)(180,0.06)(185.8,0.10)(189,0.17)(192.2,0.27)(195,0.42)(197.3,0.55)(200,0.68)(202.4,0.78)(204.5,0.87)(206.2,0.92)(207.5,0.92)(208.8,0.89)(210.8,0.77)(212.6,0.61)(214.5,0.47)(216.4,0.33)(218,0.26)(220.2,0.23)(224,0.21)(227.9,0.19)(233,0.17)(238.1,0.16)(242,0.12)(245.7,0.07)(246.5,0.14)(247.5,0.08)(250.8,0.05)(254,0.08)(258.5,0.11)(262,0.13)(264.8,0.16)(267.3,0.24)(269,0.22)(271,0.20)(272.5,0.13)(273.7,0.13)(274.5,0.04)(275.2,0.17)(277,0.13)(281.4,0.13)(286,0.11)(291.6,0.10)(296,0.09)(299.2,0.07)(300,-0.01)};
\addplot[redm] coordinates {(126.1,1.88)(133.7,1.92)};
\addplot[rpk] coordinates {(130.9,1.86)};
\addplot[redm] coordinates {(127.0,-0.25)(133.7,-0.22)};
\addplot[rpk] coordinates {(130.9,-0.27)};
\decor{Rabeprazole : Magnesium stearate}{9.4}{0.946}{Universal V4.5A TA Instrum}
\node[ann] at (axis cs:63.5,2.45) {126.58\dgC};
\node[ann] at (axis cs:63,2.09) {0.8562J/g};
\node[ann] at (axis cs:127.2,2.41) {133.67\dgC};
\node[ann] at (axis cs:131,1.68) {130.86\dgC};
\node[ann] at (axis cs:130.5,1.34) {-0.03209W/g};
\node[ann] at (axis cs:77,1.16) {126.09\dgC};
\node[annb] at (axis cs:54,0.24) {127.04\dgC};
\node[annb] at (axis cs:54,-0.11) {0.4712J/g};
\node[annb] at (axis cs:138.7,0.11) {133.67\dgC};
\node[annb] at (axis cs:92.3,-0.56) {127.01\dgC};
\node[annb] at (axis cs:146.3,-0.42) {130.87\dgC};
\node[annb] at (axis cs:146.3,-0.76) {-0.02104W/g};
\end{axis}
\end{tikzpicture}
\end{document}
